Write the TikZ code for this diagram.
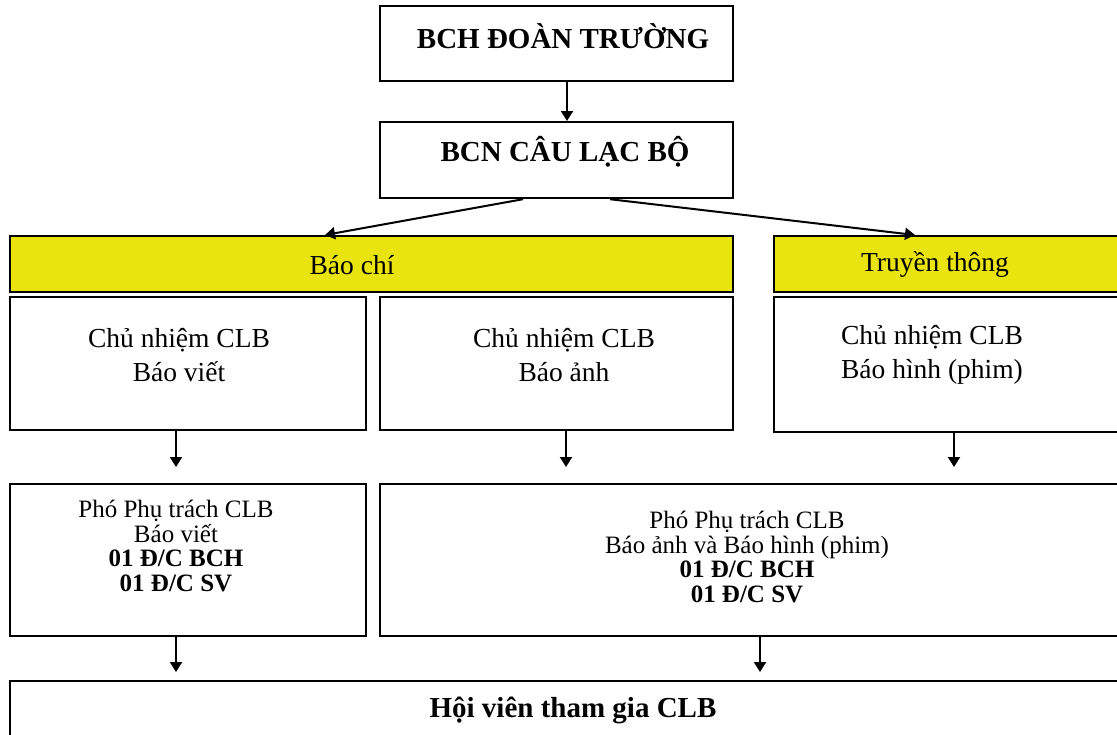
\documentclass[tikz,border=0pt]{standalone}
\usepackage{fontspec}
\setmainfont{Liberation Serif}
\usetikzlibrary{arrows.meta}
\definecolor{bandyellow}{RGB}{234,228,14}

\begin{document}
\begin{tikzpicture}[
    x=0.5pt, y=-0.5pt,
    box/.style={draw=black, line width=1.1pt, anchor=north west, inner sep=0pt},
    band/.style={box, fill=bandyellow},
    head/.style={font=\fontsize{14.5}{17}\selectfont\bfseries},
    body/.style={font=\fontsize{13.75}{17}\selectfont, align=center},
    note/.style={font=\fontsize{12.5}{12.4}\selectfont, align=center},
    arrow/.style={-{Triangle[length=5pt, width=6pt]}, line width=1pt}
]

    % name, style, x, y, width, height (all in px)
    \newcommand{\drawbox}[6]{
        \node[#2, minimum width=#5*0.5pt, minimum height=#6*0.5pt] (#1) at (#3,#4) {};
    }

    \useasboundingbox (0,0) rectangle (1117,734);
    \clip (0,0) rectangle (1117,734);

    % --- Top: leadership ---
    \drawbox{bch}{box}{379}{5}{353}{75}
    \drawbox{bcn}{box}{379}{121}{353}{76}
    \node[head] (bch-t) at (563,36) {BCH ĐOÀN TRƯỜNG};
    \node[head] (bcn-t) at (565,152) {BCN CÂU LẠC BỘ};

    % --- Yellow bands ---
    \drawbox{baochi}{band}{9}{235}{723}{56}
    \drawbox{truyen}{band}{773}{235}{400}{56}
    \node[body] (baochi-t) at (352,265) {Báo chí};
    \node[body] (truyen-t) at (935,265) {Truyền thông};

    % --- Chu nhiem CLB ---
    \drawbox{cn1}{box}{9}{296}{356}{133}
    \drawbox{cn2}{box}{379}{296}{353}{133}
    \drawbox{cn3}{box}{773}{296}{400}{135}
    \node[body] (cn1-t) at (179,355) {Chủ nhiệm CLB\\Báo viết};
    \node[body] (cn2-t) at (564,355) {Chủ nhiệm CLB\\Báo ảnh};
    \node[body] (cn3-t) at (932,355) {Chủ nhiệm CLB\\Báo hình (phim)};

    % --- Pho phu trach ---
    \drawbox{pho1}{box}{9}{483}{356}{152}
    \drawbox{pho2}{box}{379}{483}{800}{152}
    \node[note] (pho1-t) at (176,546) {Phó Phụ trách CLB\\Báo viết\\\textbf{01 Đ/C BCH}\\\textbf{01 Đ/C SV}};
    \node[note] (pho2-t) at (747,557) {Phó Phụ trách CLB\\Báo ảnh và Báo hình (phim)\\\textbf{01 Đ/C BCH}\\\textbf{01 Đ/C SV}};

    % --- Members ---
    \drawbox{hoi}{box}{9}{680}{1200}{100}
    \node[head] (hoi-t) at (573,710) {Hội viên tham gia CLB};

    % --- Arrows ---
    \draw[arrow] ([xshift=94pt]bch.south west) -- ([xshift=94pt]bcn.north west);
    \draw[arrow] ([xshift=72pt]bcn.south west) -- ([xshift=158pt]baochi.north west);
    \draw[arrow] ([xshift=115.5pt]bcn.south west) -- ([xshift=71pt]truyen.north west);
    \foreach \from/\to/\a/\b/\gap in {cn1/pho1/167/167/8pt, cn2/pho2/187/187/8pt,
        cn3/pho2/181/575/8pt, pho1/hoi/167/167/4pt, pho2/hoi/381/751/4pt} {
        \draw[arrow, shorten >=\gap] ([xshift=\a*0.5pt]\from.south west) -- ([xshift=\b*0.5pt]\to.north west);
    }
\end{tikzpicture}
\end{document}
